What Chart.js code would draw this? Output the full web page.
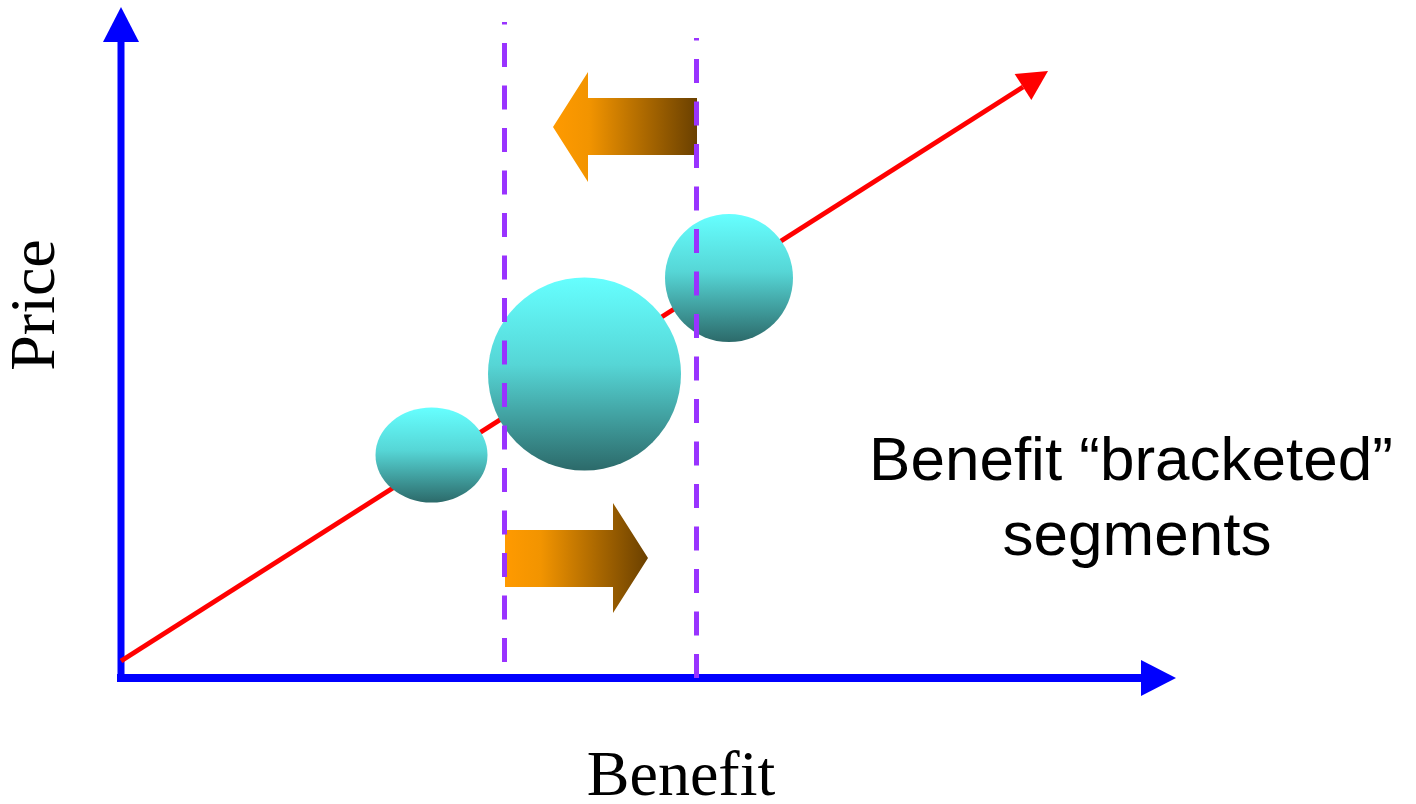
<!DOCTYPE html>
<html>
<head>
<meta charset="utf-8">
<script src="https://cdn.jsdelivr.net/npm/chart.js@4.4.1/dist/chart.umd.min.js"></script>
<style>
  html, body { margin: 0; padding: 0; background: #ffffff; }
  canvas { display: block; }
</style>
</head>
<body>
<canvas id="chart" width="1416" height="804"></canvas>
<script>
// Value ranges of the two axes (benefit across, price up)
const benefitRange = [-12.1, 129.5];
const priceRange = [-12.6, 67.8];

// Axis lines and where their arrow tips end
const benefitAxis = [{ x: -0.4, y: 0 }, { x: 102, y: 0 }];
const benefitAxisTip = { x: 105.5, y: 0 };
const priceAxis = [{ x: 0, y: -0.4 }, { x: 0, y: 63.6 }];
const priceAxisTip = { x: 0, y: 67.1 };

// Price/benefit line
const priceLine = [{ x: 0, y: 1.7 }, { x: 90.2, y: 59.1 }];
const priceLineTip = { x: 92.7, y: 60.7 };

// Benefit bracket bounds
const lowerBracket = [{ x: 38.35, y: 1.6 }, { x: 38.35, y: 65.6 }];
const upperBracket = [{ x: 57.55, y: 0 }, { x: 57.55, y: 64 }];

// Segments: centre and extent (benefit, price)
const segmentX = [31.05, 46.35, 60.8];
const segmentY = [22.3, 30.4, 40.0];
const segmentRx = [5.6, 9.65, 6.4];
const segmentRy = [4.75, 9.65, 6.4];

// Block arrows showing the bracket being squeezed from both sides
const shiftLeft = [
  { x: 57.6, y: 58.0 }, { x: 46.7, y: 58.0 }, { x: 46.7, y: 60.6 },
  { x: 43.2, y: 55.1 }, { x: 46.7, y: 49.6 }, { x: 46.7, y: 52.3 },
  { x: 57.6, y: 52.3 }
];
const shiftRight = [
  { x: 38.4, y: 14.8 }, { x: 49.2, y: 14.8 }, { x: 49.2, y: 17.5 },
  { x: 52.7, y: 12.0 }, { x: 49.2, y: 6.5 }, { x: 49.2, y: 9.1 },
  { x: 38.4, y: 9.1 }
];

// Text
const xTitle = 'Benefit';
const yTitle = 'Price';
const noteLines = ['Benefit \u201Cbracketed\u201D', 'segments'];

const BLUE = '#0000ff';
const RED = '#ff0000';
const PURPLE = '#9933ff';

function px(chart, p) {
  return { x: chart.scales.x.getPixelForValue(p.x), y: chart.scales.y.getPixelForValue(p.y) };
}

function arrowHead(ctx, base, tip, half, color) {
  const dx = tip.x - base.x, dy = tip.y - base.y;
  const len = Math.hypot(dx, dy) || 1;
  const nx = -dy / len, ny = dx / len;
  ctx.save();
  ctx.fillStyle = color;
  ctx.beginPath();
  ctx.moveTo(tip.x, tip.y);
  ctx.lineTo(base.x + nx * half, base.y + ny * half);
  ctx.lineTo(base.x - nx * half, base.y - ny * half);
  ctx.closePath();
  ctx.fill();
  ctx.restore();
}

function blockArrow(chart, pts) {
  const ctx = chart.ctx;
  const p = pts.map(q => px(chart, q));
  const xsPx = p.map(q => q.x);
  const x0 = Math.min(...xsPx), x1 = Math.max(...xsPx);
  const g = ctx.createLinearGradient(x0, 0, x1, 0);
  g.addColorStop(0, '#ff9a00');
  g.addColorStop(0.25, '#f29400');
  g.addColorStop(1, '#6a4000');
  ctx.save();
  ctx.fillStyle = g;
  ctx.beginPath();
  p.forEach((q, i) => (i ? ctx.lineTo(q.x, q.y) : ctx.moveTo(q.x, q.y)));
  ctx.closePath();
  ctx.fill();
  ctx.restore();
}

function drawSegments(chart) {
  const ctx = chart.ctx;
  const sx = chart.scales.x, sy = chart.scales.y;
  const unitX = Math.abs(sx.getPixelForValue(1) - sx.getPixelForValue(0));
  const unitY = Math.abs(sy.getPixelForValue(1) - sy.getPixelForValue(0));
  segmentX.forEach((v, i) => {
    const cx = sx.getPixelForValue(v);
    const cy = sy.getPixelForValue(segmentY[i]);
    const rx = segmentRx[i] * unitX;
    const ry = segmentRy[i] * unitY;
    const g = ctx.createLinearGradient(0, cy - ry, 0, cy + ry);
    g.addColorStop(0, '#66ffff');
    g.addColorStop(0.45, '#56d6d6');
    g.addColorStop(1, '#2c6a6a');
    ctx.save();
    ctx.fillStyle = g;
    ctx.beginPath();
    ctx.ellipse(cx, cy, rx, ry, 0, 0, Math.PI * 2);
    ctx.fill();
    ctx.restore();
  });
}

const diagramPlugin = {
  id: 'diagram',
  afterDatasetDraw(chart, args) {
    const ds = chart.data.datasets[args.index];
    if (ds.tip) {
      const base = px(chart, ds.data[ds.data.length - 1]);
      const tip = px(chart, ds.tip);
      const halfPx = ds.headHalf * Math.abs(chart.scales.x.getPixelForValue(1) - chart.scales.x.getPixelForValue(0));
      arrowHead(chart.ctx, base, tip, halfPx, ds.borderColor);
    }
    if (ds.role === 'priceLine') {
      drawSegments(chart);
      blockArrow(chart, shiftLeft);
      blockArrow(chart, shiftRight);
    }
  },
  afterDatasetsDraw(chart) {
    const ctx = chart.ctx;
    ctx.save();
    ctx.fillStyle = '#000000';
    ctx.textBaseline = 'alphabetic';
    ctx.textAlign = 'center';
    ctx.font = '64px "Liberation Serif", "Times New Roman", serif';
    ctx.fillText(xTitle, 681, 795);
    ctx.save();
    ctx.translate(54, 305);
    ctx.rotate(-Math.PI / 2);
    ctx.fillText(yTitle, 0, 0);
    ctx.restore();
    ctx.font = '62px "Liberation Sans", Arial, sans-serif';
    ctx.fillText(noteLines[0], 1131, 480);
    ctx.fillText(noteLines[1], 1137, 555);
    ctx.restore();
  }
};

const lineBase = { showLine: true, pointRadius: 0, pointHoverRadius: 0, fill: false, tension: 0, borderCapStyle: 'butt', clip: false };

new Chart(document.getElementById('chart'), {
  type: 'scatter',
  data: {
    datasets: [
      Object.assign({}, lineBase, { label: 'Benefit axis', data: benefitAxis, tip: benefitAxisTip, headHalf: 1.8, borderColor: BLUE, borderWidth: 8, order: 3 }),
      Object.assign({}, lineBase, { label: 'Price axis', data: priceAxis, tip: priceAxisTip, headHalf: 1.8, borderColor: BLUE, borderWidth: 7, order: 3 }),
      Object.assign({}, lineBase, { label: 'Price line', role: 'priceLine', data: priceLine, tip: priceLineTip, headHalf: 1.55, borderColor: RED, borderWidth: 5, order: 2 }),
      Object.assign({}, lineBase, { label: 'Lower bracket', data: lowerBracket, borderColor: PURPLE, borderWidth: 5, borderDash: [24, 18.5], order: 1 }),
      Object.assign({}, lineBase, { label: 'Upper bracket', data: upperBracket, borderColor: PURPLE, borderWidth: 5, borderDash: [24, 18.5], order: 1 })
    ]
  },
  options: {
    responsive: false,
    animation: false,
    devicePixelRatio: 1,
    events: [],
    layout: { padding: 0 },
    plugins: { legend: { display: false }, tooltip: { enabled: false } },
    scales: {
      x: { type: 'linear', display: false, min: benefitRange[0], max: benefitRange[1] },
      y: { type: 'linear', display: false, min: priceRange[0], max: priceRange[1] }
    }
  },
  plugins: [diagramPlugin]
});
</script>
</body>
</html>
